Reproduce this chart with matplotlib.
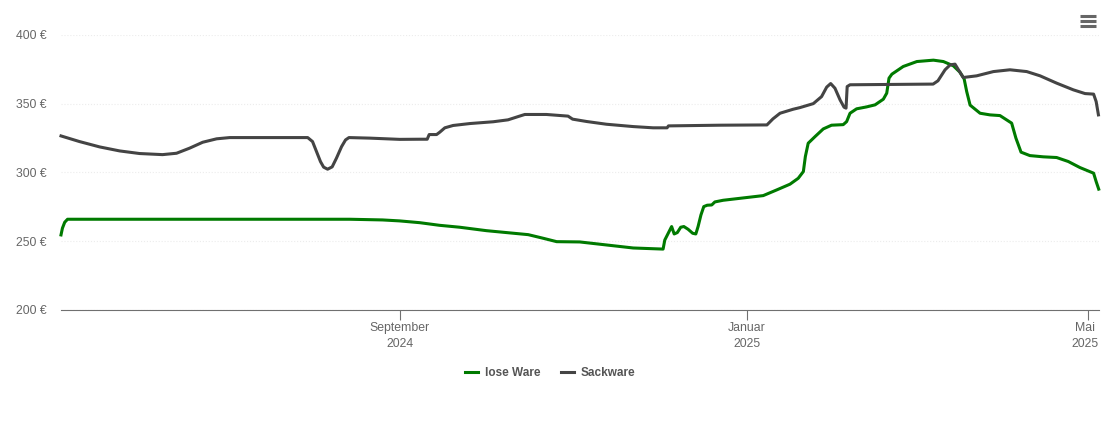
import pandas as pd
import matplotlib
matplotlib.use('Agg')  # Use non-GUI backend for saving plots
import matplotlib.pyplot as plt
from matplotlib.lines import Line2D
from matplotlib.transforms import ScaledTranslation

START = pd.Timestamp('2024-05-05')

# Price: (days since START, EUR)
LOSE_WARE = [
    (0, 254.6), (0.5, 259.5), (1.3, 263.8), (2.3, 266), (101.5, 266), (113, 265.5), (119, 264.8),
    (126.1, 263.5), (133, 261.6), (140.1, 260.2), (149.5, 257.7), (164.2, 254.8), (169.4, 252.2),
    (174.2, 249.7), (182.3, 249.5), (191.7, 247.3), (201.1, 245.1), (211.6, 244.3), (212.2, 250.9),
    (213.4, 255.8), (214.6, 260.7), (215.5, 255.3), (216.6, 256.3), (217.8, 260.2), (218.9, 260.7),
    (220.4, 258.7), (222, 255.8), (223.1, 255.3), (223.9, 260.7), (224.9, 269.1), (225.9, 275.2),
    (227.1, 276.2), (228.7, 276.4), (229.8, 278.6), (232.7, 279.8), (246.8, 283.2), (251.5, 287.3),
    (256.2, 291.5), (259.1, 295.8), (260.9, 300.7), (261.6, 311.6), (262.6, 321.3), (265, 326.1),
    (267.9, 331.7), (270.8, 334.4), (274.9, 334.8), (276.1, 337), (277.3, 343.1), (279.6, 346.3),
    (283.1, 347.7), (286.1, 349.2), (289, 353.3), (290.2, 357.7), (291, 368.6), (292, 371.5),
    (296, 377.1), (300.8, 380.7), (306.6, 381.7), (310.1, 380.7), (313.6, 377.6), (315.9, 373),
    (317.4, 368.1), (318.3, 358.9), (319.5, 349), (323, 343.1), (326.5, 341.9), (330, 341.4),
    (334.1, 335.9), (335.6, 325), (337.4, 314.8), (340.5, 312.3), (345.2, 311.4), (349.9, 310.9),
    (354, 308), (358.1, 303.6), (362.9, 299.5), (363.8, 293.4), (364.7, 287.9),
]
SACKWARE = [
    (0, 326.6), (6.5, 322.5), (13.6, 318.6), (20.6, 315.7), (27.6, 313.8), (35.7, 313), (40.6, 314),
    (45.2, 317.7), (49.8, 322), (54.7, 324.5), (59.3, 325.4), (66.3, 325.4), (86.7, 325.4), (88.4, 322.5),
    (89.8, 315.2), (91.2, 307.9), (92.3, 303.9), (93.7, 302.4), (95.3, 304.1), (96.8, 310.4), (98.6, 318.8),
    (100, 323.7), (101.2, 325.4), (108.5, 325), (119, 324.1), (126.1, 324.2), (128.7, 324.2), (129.4, 327.6),
    (132, 327.6), (133.1, 329.3), (134.9, 332.5), (137.8, 334.2), (143.7, 335.6), (151.9, 336.9),
    (157.1, 338.3), (160.7, 340.7), (163, 342.2), (170.6, 342.2), (178.2, 341), (179.8, 338.8),
    (184.7, 337.1), (191.7, 335.1), (201.1, 333.4), (208.1, 332.5), (213, 332.5), (213.5, 333.9),
    (231.6, 334.4), (248.1, 334.6), (250.2, 339), (252.7, 343.1), (257.3, 346), (259.7, 347.2),
    (264.4, 350.1), (267.3, 355.2), (269.1, 362.1), (270.5, 364.7), (272, 361.3), (273.8, 352.8),
    (275.2, 347.5), (275.9, 346.8), (276.3, 362.5), (277.3, 363.8), (306.5, 364.3), (308.2, 366.7),
    (310.7, 374.7), (312.5, 378.3), (314.2, 378.8), (315.4, 374.7), (317.1, 369.1), (321.8, 370.3),
    (327.7, 373.4), (333.5, 374.7), (339.4, 373.4), (344.1, 370.3), (349.9, 365), (355.8, 360.1),
    (359.9, 357.4), (362.9, 357), (363.8, 351.6), (364.6, 341.9),
]


def to_frame(points):
    """
    Turns (day offset, price) pairs into a table with real timestamps.

    Parameters:
        points (list): Pairs of days since START and price in EUR.

    Output:
        Returns a DataFrame with the columns 'timestamp' and 'price'.
    """
    df = pd.DataFrame(points, columns=['days', 'price'])
    df['timestamp'] = START + pd.to_timedelta(df['days'], unit='D')
    return df


def generate_chart(df_lose, df_sack):
    """
    Draws both price curves and saves the chart.

    Parameters:
        df_lose (pd.DataFrame): Prices of the loose goods.
        df_sack (pd.DataFrame): Prices of the bagged goods.

    Output:
        Saves the chart to 'out.png'.
    """
    plt.rcParams['font.family'] = 'Liberation Sans'

    fig = plt.figure(figsize=(11.1, 4.22), dpi=100)
    plt.axes([61 / 1110, 112 / 422, 1038 / 1110, 275 / 422])

    plt.plot(df_lose['timestamp'], df_lose['price'], label='lose Ware', color='#007a00', linewidth=2.2, solid_joinstyle='round', clip_on=False)
    plt.plot(df_sack['timestamp'], df_sack['price'], label='Sackware', color='#444444', linewidth=2.2, solid_joinstyle='round', clip_on=False)

    plt.xlim(START + pd.Timedelta(days=0), START + pd.Timedelta(days=364.8))
    plt.ylim(200, 400)

    # Axis styling
    ax = plt.gca()
    for side in ['top', 'left', 'right']:
        ax.spines[side].set_visible(False)
    ax.spines['bottom'].set_color('#707070')
    ax.set_axisbelow(True)
    plt.grid(True, axis='y', linestyle=':', color='#ececec', linewidth=0.8)

    plt.yticks([200, 250, 300, 350, 400], ['200 €', '250 €', '300 €', '350 €', '400 €'], fontsize=8.8, color='#666666')
    plt.xticks(pd.to_datetime(['2024-09-01', '2025-01-01', '2025-05-01']),
               ['September\n2024', 'Januar\n2025', 'Mai\n2025'], fontsize=8.8, color='#666666', linespacing=1.45)
    plt.tick_params(axis='y', length=0, pad=10.5)
    plt.tick_params(axis='x', length=7, width=0.8, color='#707070', pad=1.5)

    # Last label sits a little left of its tick so it fits inside the figure
    last = ax.get_xticklabels()[-1]
    last.set_transform(last.get_transform() + ScaledTranslation(-3 / 100, 0, fig.dpi_scale_trans))

    plt.legend(loc='center', bbox_to_anchor=(550 / 1110, 49 / 422), bbox_transform=fig.transFigure, ncol=2,
               frameon=False, handlelength=1.1, handletextpad=0.6, columnspacing=1.75,
               labelcolor='#555555', prop={'size': 8.5, 'weight': 'bold'})

    # Menu icon in the top right corner
    for y in [16, 21, 26]:
        fig.add_artist(Line2D([1080 / 1110, 1096 / 1110], [1 - y / 422, 1 - y / 422], color='#666666', linewidth=2.2,
                              solid_capstyle='butt', transform=fig.transFigure))

    # Save the final image
    plt.savefig('out.png')
    plt.close()


generate_chart(to_frame(LOSE_WARE), to_frame(SACKWARE))
